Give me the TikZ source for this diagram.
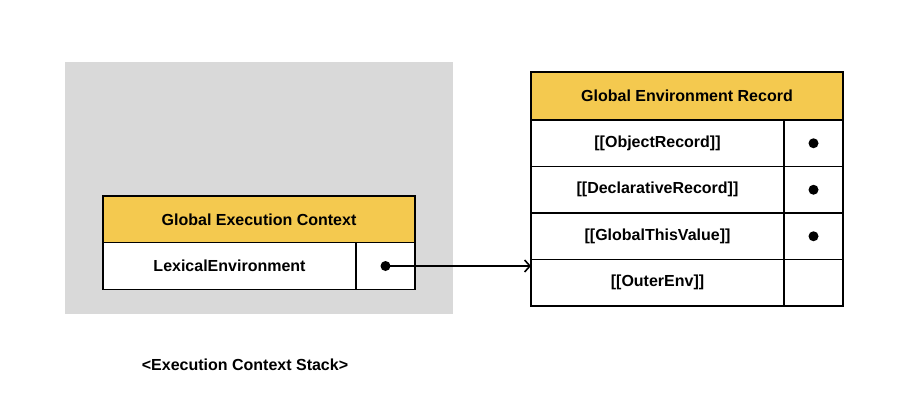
\documentclass[tikz,border=0pt]{standalone}
\usepackage{fontspec}
\setmainfont{Liberation Sans}
\usetikzlibrary{arrows.meta}
\definecolor{headyellow}{HTML}{F4C94F}
\definecolor{stackgray}{HTML}{D9D9D9}

\begin{document}
\begin{tikzpicture}[x=0.75pt,y=-0.75pt,
		header/.style={draw,fill=headyellow,line width=1pt,minimum width=234pt,minimum height=35.5pt,font=\bfseries\fontsize{12}{14}\selectfont},
		keycell/.style={draw,fill=white,line width=1pt,minimum width=189.75pt,minimum height=34.8pt,font=\bfseries\fontsize{12}{14}\selectfont},
		valcell/.style={draw,fill=white,line width=1pt,minimum width=44.25pt,minimum height=34.8pt},
		pointer/.style={circle,fill=black,inner sep=0pt,minimum size=7.5pt}]
		\useasboundingbox (0,0) rectangle (909,400);

		% execution context stack
		\fill[stackgray] (65,62) rectangle (453,314);
		\node[font=\bfseries\fontsize{12}{14}\selectfont] (caption) at (245,365) {<Execution Context Stack>};

		% global execution context
		\node[header] (gec) at (259,219.5) {Global Execution Context};
		\node[keycell] (klex) at (229.5,266) {LexicalEnvironment};
		\node[valcell] (vlex) at (385.5,266) {};
		\node[pointer] (lexdot) at (vlex) {};

		% global environment record
		\node[header,minimum height=36pt] (ger) at (687,96) {Global Environment Record};
		\foreach \name/\label/\dot [count=\i] in {obj/{[[ObjectRecord]]}/1,decl/{[[DeclarativeRecord]]}/1,this/{[[GlobalThisValue]]}/1,outer/{[[OuterEnv]]}/0} {
				\node[keycell] (k\name) at (657.5,96.75+46.5*\i) {\label};
				\node[valcell] (v\name) at (813.5,96.75+46.5*\i) {};
				\ifnum\dot=1
					\node[pointer] (d\name) at (v\name) {};
				\fi
			}

		% pointer to the record
		\coordinate (arrowend) at (531,266);
		\draw[line width=1.2pt,-{Straight Barb[length=4pt,width=9pt]}] (lexdot.center) -- (arrowend);

	\end{tikzpicture}
\end{document}
